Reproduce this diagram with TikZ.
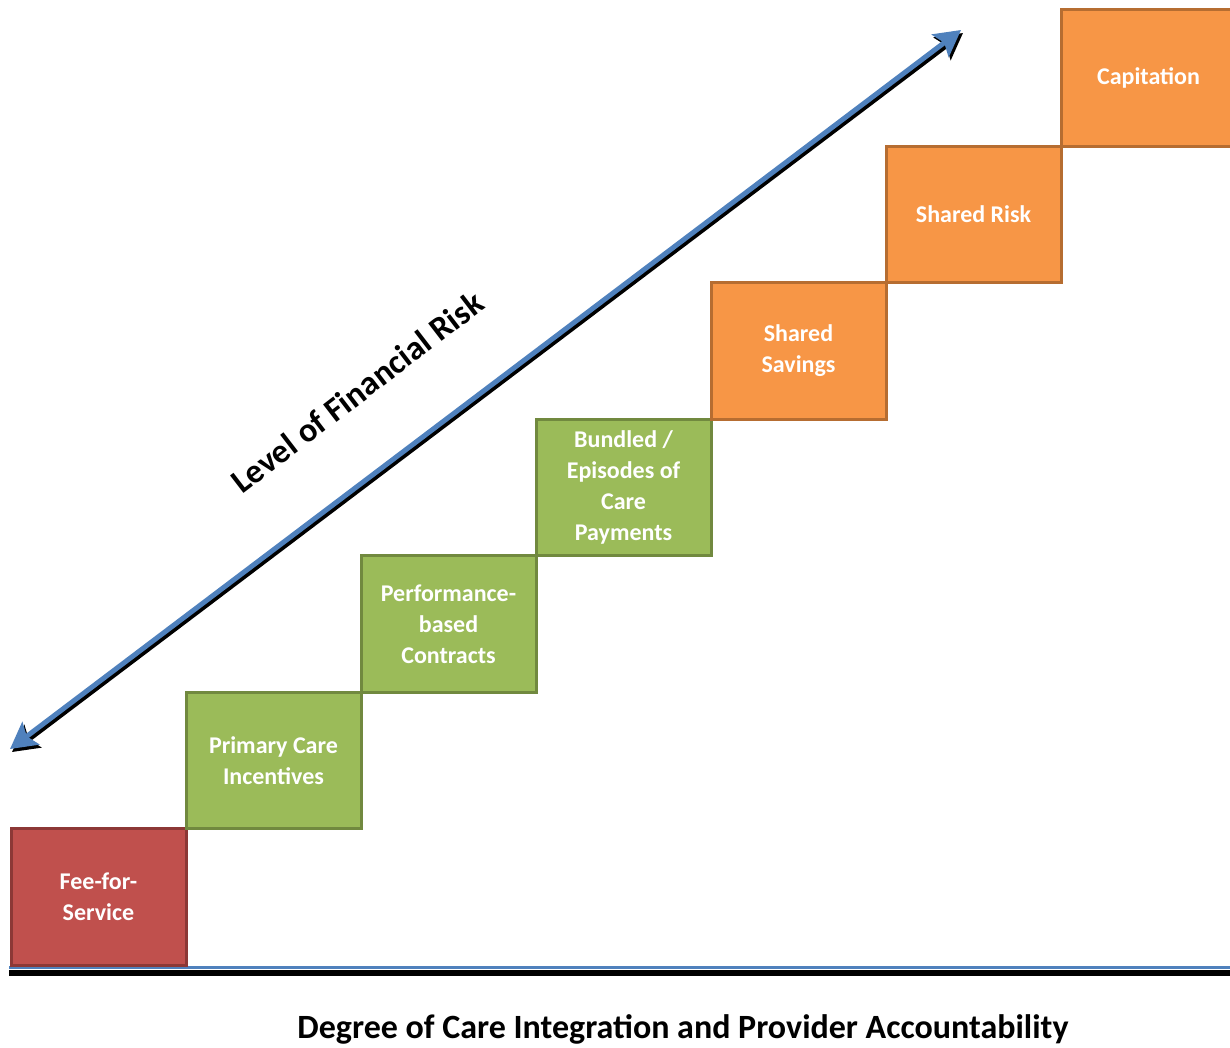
\documentclass[tikz,border=0pt]{standalone}
\usepackage{fontspec}
\setmainfont{Carlito}
\usetikzlibrary{arrows.meta, positioning}
\definecolor{feered}{RGB}{192,80,77}
\definecolor{feeredline}{RGB}{140,56,54}
\definecolor{stepgreen}{RGB}{155,187,89}
\definecolor{stepgreenline}{RGB}{113,137,63}
\definecolor{steporange}{RGB}{247,150,70}
\definecolor{steporangeline}{RGB}{182,109,49}
\definecolor{riskblue}{RGB}{79,129,189}

\tikzset{
	stepbox/.style={draw, line width=3pt, outer sep=0pt, minimum width=175pt, minimum height=136.5pt,
		align=center, text=white, font=\bfseries\fontsize{24}{31}\selectfont, anchor=south west},
	greenbox/.style={stepbox, fill=stepgreen, draw=stepgreenline},
	orangebox/.style={stepbox, fill=steporange, draw=steporangeline},
	riskarrow/.style={line width=5pt, {Stealth[length=26pt,width=28pt,inset=5pt]}-{Stealth[length=26pt,width=28pt,inset=5pt]}}
}

\begin{document}
\begin{tikzpicture}[x=1pt,y=-1pt]
	\useasboundingbox[fill=white] (0,0) rectangle (1230,1047);
	
	%--------------------------------------------------------------------
	\coordinate (axisleft) at (9,967.5);
	\coordinate (axisright) at (1232,967.5);
	\draw[line width=6pt, black, transform canvas={shift={(0,5)}}] (axisleft) -- (axisright);
	\draw[line width=3pt, riskblue] (axisleft) -- (axisright);
	
	%--------------------------------------------------------------------
	\node(ffs) [stepbox, fill=feered, draw=feeredline] at (11,965) {Fee-for-\\Service};
	\node(primary) [greenbox] at (ffs.north east) {Primary Care\\Incentives};
	\node(perf) [greenbox] at (primary.north east) {Performance-\\based\\Contracts};
	\node(bundled) [greenbox] at (perf.north east) {Bundled /\\Episodes of\\Care\\Payments};
	\node(savings) [orangebox] at (bundled.north east) {Shared\\Savings};
	\node(risk) [orangebox] at (savings.north east) {Shared Risk};
	\node(capitation) [orangebox] at (risk.north east) {Capitation};
	
	%--------------------------------------------------------------------
	\coordinate (risklow) at (10,749);
	\coordinate (riskhigh) at (961,30);
	\draw[riskarrow, black, transform canvas={shift={(2,3)}}] (risklow) -- (riskhigh);
	\draw[riskarrow, riskblue] (risklow) -- (riskhigh);
	\node(risklabel) [rotate=37.5, font=\bfseries\fontsize{34}{36}\selectfont] at (357,392) {Level of Financial Risk};
	
	%--------------------------------------------------------------------
	\node(integration) [font=\bfseries\fontsize{34}{36}\selectfont] at (683,1029) {Degree of Care Integration and Provider Accountability};
\end{tikzpicture}
\end{document}
